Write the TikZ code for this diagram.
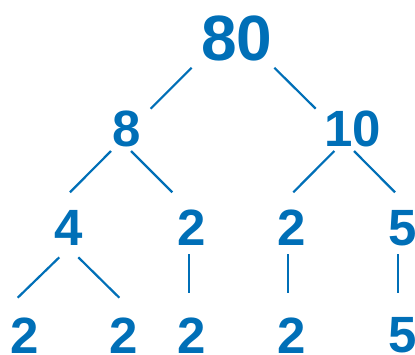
\documentclass[tikz,border=0pt]{standalone}
\usepackage{fontspec}
\setmainfont{Liberation Sans}
\definecolor{treeblue}{RGB}{0,111,183}
\tikzset{
  num/.style={text=treeblue, inner sep=0pt, font=\bfseries\fontsize{51}{51}\selectfont},
  bignum/.style={num, font=\bfseries\fontsize{64}{64}\selectfont},
  branch/.style={draw=treeblue, line width=2.2pt}
}
\begin{document}
\begin{tikzpicture}[x=1pt,y=-1pt]
        \useasboundingbox (0,0) rectangle (415,354);
        \node[bignum] (n80) at (236.7,38.3) {80};
        \node[num] (n8) at (126.5,128.7) {8};
        \node[num] (n10) at (352.5,128.7) {10};
        \node[num] (n4) at (68.3,227.8) {4};
        \node[num] (n2a) at (192,227.8) {2};
        \node[num] (n2b) at (291.2,227.8) {2};
        \node[num] (n5) at (402.5,227.8) {5};
        \node[num] (m1) at (24.7,335.3) {2};
        \node[num] (m2) at (123.5,335.3) {2};
        \node[num] (m3) at (192,335.3) {2};
        \node[num] (m4) at (291.2,335.3) {2};
        \node[num] (m5) at (402.5,335.3) {5};
        \draw[branch] ([shift={(-45,29.4)}]n80.center) -- ([shift={(24.2,-20)}]n8.center);
        \draw[branch] ([shift={(37.6,29.4)}]n80.center) -- ([shift={(-36.8,-20)}]n10.center);
        \draw[branch] ([shift={(-15.5,22.3)}]n8.center) -- ([shift={(1.7,-35.5)}]n4.center);
        \draw[branch] ([shift={(4.5,22.3)}]n8.center) -- ([shift={(-19.7,-35.5)}]n2a.center);
        \draw[branch] ([shift={(-18.2,22.3)}]n10.center) -- ([shift={(2.1,-35.5)}]n2b.center);
        \draw[branch] ([shift={(1.5,22.3)}]n10.center) -- ([shift={(-7.5,-35.5)}]n5.center);
        \draw[branch] ([shift={(-9,29.5)}]n4.center) -- ([shift={(-7,-37.6)}]m1.center);
        \draw[branch] ([shift={(10,29.5)}]n4.center) -- ([shift={(-4.2,-37.6)}]m2.center);
        \draw[branch] ([shift={(-3,26.5)}]n2a.center) -- ([shift={(-3,-42.6)}]m3.center);
        \draw[branch] ([shift={(-2.9,26.5)}]n2b.center) -- ([shift={(-2.9,-42.6)}]m4.center);
        \draw[branch] ([shift={(-4.2,26.5)}]n5.center) -- ([shift={(-4.2,-42.6)}]m5.center);
      \end{tikzpicture}
\end{document}
